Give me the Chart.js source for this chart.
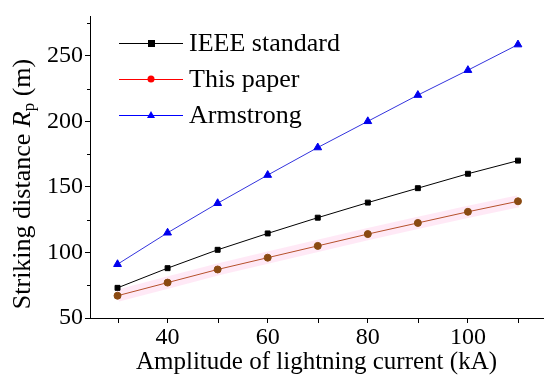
<!DOCTYPE html>
<html><head><meta charset="utf-8">
<script src="https://cdn.jsdelivr.net/npm/chart.js@4"></script>
<style>html,body{margin:0;padding:0;background:#fff}#wrap{width:550px;height:377px}</style>
</head><body><div id="wrap"><canvas id="c" width="550" height="377"></canvas></div>
<script>
const currents = [30, 40, 50, 60, 70, 80, 90, 100, 110];
const ieee = [73, 88, 102, 114.5, 126.5, 138, 149, 160, 170];
const thisPaper = [67, 77, 87, 96, 105, 114, 122.5, 131, 139];
const armstrong = [91, 115, 137.5, 159, 180, 200, 220, 239, 258.5];
const yTicks = [50, 100, 150, 200, 250];
const yMinor = [75, 125, 175, 225, 275];
const xTicks = [40, 60, 80, 100];
const xMinor = [30, 50, 70, 90, 110];
const seriesNames = ['IEEE standard', 'This paper', 'Armstrong'];

const FONT = '"Liberation Serif", "DejaVu Serif", serif';
const pts = arr => currents.map((x, i) => ({x, y: arr[i]}));

const minorPlugin = {
  id: 'minor',
  afterDraw(chart) {
    const ctx = chart.ctx, xs = chart.scales.x, ys = chart.scales.y;
    ctx.save(); ctx.strokeStyle = '#000'; ctx.lineWidth = 1;
    ctx.beginPath();
    yMinor.forEach(v => { const p = Math.round(ys.getPixelForValue(v)) + 0.5; ctx.moveTo(xs.left - 3, p); ctx.lineTo(xs.left, p); });
    xMinor.forEach(v => { const p = Math.round(xs.getPixelForValue(v)) + 0.5; ctx.moveTo(p, ys.bottom); ctx.lineTo(p, ys.bottom + 5); });
    ctx.stroke();
    // y title
    ctx.translate(23, 184); ctx.rotate(-Math.PI / 2);
    ctx.fillStyle = '#000'; ctx.textBaseline = 'middle';
    const parts = [['Striking distance ', 'normal', 26, 0], ['R', 'italic', 26, 0], ['p', 'normal', 17, 7], [' (m)', 'normal', 26, 0]];
    let total = 0;
    parts.forEach(p => { ctx.font = p[1] + ' ' + p[2] + 'px ' + FONT; total += ctx.measureText(p[0]).width; });
    let x = -total / 2;
    parts.forEach(p => { ctx.font = p[1] + ' ' + p[2] + 'px ' + FONT; ctx.textAlign = 'left'; ctx.fillText(p[0], x, p[3]); x += ctx.measureText(p[0]).width; });
    ctx.restore();
    // legend
    ctx.save();
    const ds = chart.data.datasets.filter(d => !d.hidden && d.label);
    ds.forEach((d, i) => {
      const y = 43 + i * 36;
      ctx.strokeStyle = d.legendColor; ctx.lineWidth = 1;
      ctx.beginPath(); ctx.moveTo(119, y + 0.5); ctx.lineTo(183, y + 0.5); ctx.stroke();
      ctx.fillStyle = d.legendColor;
      const cx = 151;
      if (d.pointStyle === 'rect') ctx.fillRect(cx - 3, y - 3, 7, 7);
      else if (d.pointStyle === 'circle') { ctx.beginPath(); ctx.arc(cx, y, 3.5, 0, Math.PI * 2); ctx.fill(); }
      else { ctx.beginPath(); ctx.moveTo(cx, y - 4); ctx.lineTo(cx + 4, y + 3); ctx.lineTo(cx - 4, y + 3); ctx.closePath(); ctx.fill(); }
      ctx.fillStyle = '#000'; ctx.font = '26px ' + FONT; ctx.textBaseline = 'middle'; ctx.textAlign = 'left';
      ctx.fillText(d.label, 189, y + 1);
    });
    ctx.restore();
  }
};

new Chart(document.getElementById('c'), {
  type: 'line',
  data: {
    datasets: [
      {label: '', data: pts(thisPaper), borderColor: 'rgba(255,120,200,0.16)', borderWidth: 12, pointRadius: 0, order: 10, hidden: false},
      {label: seriesNames[0], data: pts(ieee), borderColor: '#000', backgroundColor: '#000', legendColor: '#000', borderWidth: 1, pointStyle: 'rect', pointRadius: 3.5, order: 1},
      {label: seriesNames[1], data: pts(thisPaper), borderColor: '#b5502a', backgroundColor: '#8a4a12', pointBorderColor: '#8a4a12', legendColor: '#ff0000', borderWidth: 1, pointStyle: 'circle', pointRadius: 3.5, order: 2},
      {label: seriesNames[2], data: pts(armstrong), borderColor: '#3333dd', backgroundColor: '#0000ee', pointBorderColor: '#0000ee', legendColor: '#0000ff', borderWidth: 1, pointStyle: 'triangle', pointRadius: 4.5, order: 3}
    ]
  },
  options: {
    responsive: false, animation: false,
    layout: {padding: {left: 0, right: 7, top: 7, bottom: 0}},
    plugins: {legend: {display: false}, tooltip: {enabled: false}},
    scales: {
      x: {
        type: 'linear', min: 24.5, max: 115,
        afterBuildTicks: s => { s.ticks = xTicks.map(v => ({value: v})); },
        afterFit: s => { s.height = 59; },
        grid: {drawOnChartArea: false, tickLength: 5, color: '#000'},
        border: {color: '#000', width: 1},
        ticks: {color: '#000', font: {family: FONT, size: 24}, padding: 0},
        title: {display: true, text: 'Amplitude of lightning current (kA)', color: '#000', font: {family: FONT, size: 25}, padding: {top: -7, bottom: 0}}
      },
      y: {
        type: 'linear', min: 50, max: 280,
        afterBuildTicks: s => { s.ticks = yTicks.map(v => ({value: v})); },
        afterFit: s => { s.width = 90; },
        grid: {drawOnChartArea: false, tickLength: 5, color: '#000'},
        border: {color: '#000', width: 1},
        ticks: {color: '#000', font: {family: FONT, size: 24}, padding: 2}
      }
    }
  },
  plugins: [minorPlugin]
});
</script></body></html>
